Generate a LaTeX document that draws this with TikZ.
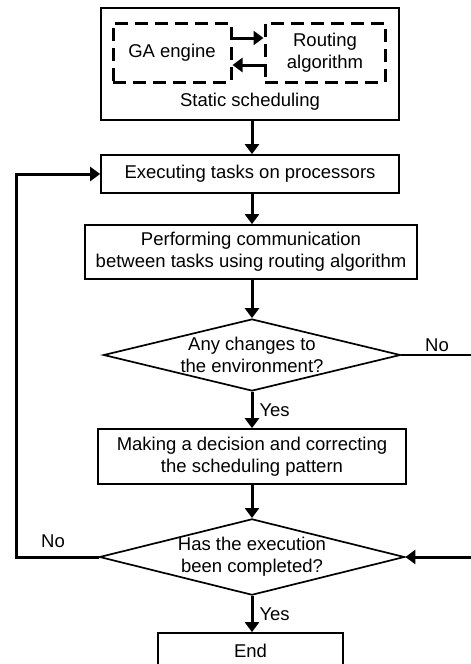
\documentclass[tikz,border=0pt]{standalone}
\usepackage{fontspec}
\setmainfont{Liberation Sans}
\usetikzlibrary{arrows.meta,shapes.geometric}
\begin{document}
\begin{tikzpicture}[x=1pt,y=-1pt,
  font=\fontsize{18.5}{22}\selectfont,
  box/.style={draw,line width=1.7pt,inner sep=0pt,align=center},
  dbox/.style={draw,line width=3pt,dash pattern=on 13pt off 7pt,inner sep=0pt,align=center},
  dia/.style={draw,line width=1.7pt,diamond,aspect=4,inner sep=0pt,align=center},
  conn/.style={line width=3pt,-{Triangle[length=10pt,width=14pt]}},
  thin/.style={line width=1.7pt},
  lbl/.style={inner sep=0pt}]
\useasboundingbox[fill=white] (0,0) rectangle (471,664);
% top box
\node[box,minimum width=298pt,minimum height=112pt] (static) at (250,64) {};
\node[dbox,minimum width=118pt,minimum height=59pt] (ga) at (172,52.5) {GA engine};
\node[dbox,minimum width=120pt,minimum height=59pt] (rt) at (325,52.5) {Routing\\algorithm};
\node[lbl] (stxt) at (250,102) {Static scheduling};
\draw[conn] ([yshift=14.5pt]ga.east) -- ([yshift=14.5pt]rt.west);
\draw[conn] ([yshift=-12.5pt]rt.west) -- ([yshift=-12.5pt]ga.east);
% process
\node[box,minimum width=298pt,minimum height=38pt] (exec) at (250,174) {Executing tasks on processors};
\node[box,minimum width=332pt,minimum height=54pt] (perf) at (251,252) {Performing communication\\between tasks using routing algorithm};
\node[dia,minimum width=297pt,minimum height=72pt] (d1) at (252,355) {Any changes to\\the environment?};
\node[box,minimum width=308pt,minimum height=55pt] (make) at (252,456.5) {Making a decision and correcting\\the scheduling pattern};
\node[dia,minimum width=297pt,minimum height=76pt] (d2) at (252,557) {Has the execution\\been completed?};
\node[box,minimum width=185pt,minimum height=44pt] (end) at (250.5,655) {};
\node[lbl] (endtxt) at (250.5,651) {End};
% connectors
\draw[conn] (static.south -| 252,0) -- (exec.north -| 252,0);
\draw[conn] (exec.south -| 252,0) -- (perf.north -| 252,0);
\draw[conn] (perf.south -| 252,0) -- (d1.north);
\draw[conn] (d1.south) -- (make.north -| 252,0) node[midway,right=6pt,lbl] (y1) {Yes};
\draw[conn] (make.south -| 252,0) -- (d2.north);
\draw[conn] (d2.south) -- (end.north -| 252,0) node[midway,right=6pt,lbl] (y2) {Yes};
\coordinate (loopL) at (16,557);
\draw[conn] (d2.west) -- (loopL) |- (exec.west);
\node[lbl] (n2) at (53,541) {No};
\coordinate (r1) at (472,355);
\coordinate (r2) at (472,557);
\draw[thin] (d1.east) -- (r1);
\node[lbl] (n1) at (437,345) {No};
\draw[conn] (r2) -- (d2.east);
\end{tikzpicture}
\end{document}
